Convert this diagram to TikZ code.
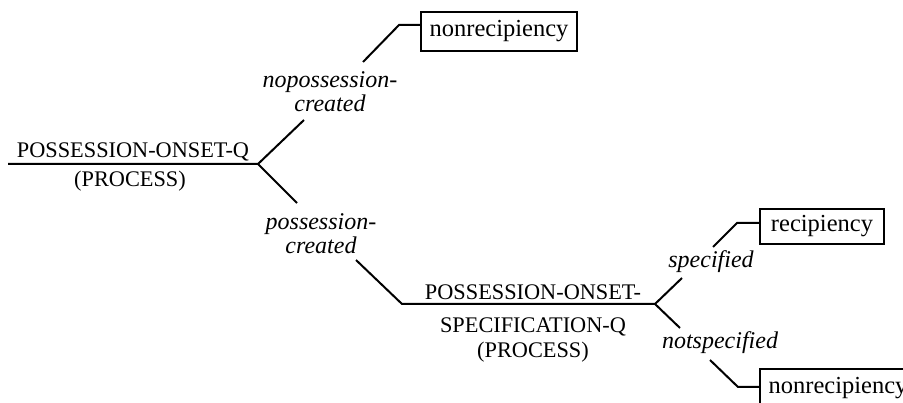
\documentclass[tikz,border=0pt]{standalone}
\usepackage{fontspec}
\setmainfont{Liberation Serif}
\begin{document}
\begin{tikzpicture}[x=1pt,y=-1pt,
  edge/.style={line width=2pt},
  lbl/.style={font=\fontsize{24}{24}\selectfont\itshape, align=center, inner sep=0pt},
  txt/.style={font=\fontsize{22.3}{26}\selectfont, inner sep=0pt, anchor=base},
  leaf/.style={draw, line width=2pt, font=\fontsize{24.5}{26}\selectfont, inner sep=0pt, anchor=north west}]
\useasboundingbox (0,0) rectangle (903,403);

% root
\coordinate (s) at (8,164);
\coordinate (j1) at (258,164);
\node[txt] (t1) at (133,158) {POSSESSION-ONSET-Q};
\node[txt] (t1p) at (130,187) {(PROCESS)};

% upper branch
\coordinate (a1) at (304,120);
\node[lbl] (l1) at (330,92) {nopossession-\\created};
\coordinate (b1) at (363,62);
\coordinate (c1) at (399,25);
\node[leaf, minimum width=156pt, minimum height=39pt] (n1) at (420,11) {nonrecipiency};
\draw[edge] (s) -- (j1) -- (a1);
\draw[edge] (b1) -- (c1) -- (c1 -| n1.west);

% lower branch
\coordinate (a2) at (297,203);
\node[lbl] (l2) at (321,234) {possession-\\created};
\coordinate (b2) at (356,260);
\coordinate (c2) at (402,304);
\coordinate (j2) at (655,304);
\draw[edge] (j1) -- (a2);
\draw[edge] (b2) -- (c2) -- (j2);
\node[txt] (t2a) at (533,300) {POSSESSION-ONSET-};
\node[txt] (t2b) at (533,333) {SPECIFICATION-Q};
\node[txt] (t2c) at (533,358) {(PROCESS)};

% specified
\coordinate (a3) at (682,278);
\node[lbl] (l3) at (711,262) {specified};
\coordinate (b3) at (713,247);
\coordinate (c3) at (737,223);
\node[leaf, minimum width=124pt, minimum height=35pt] (r1) at (759,208) {recipiency};
\draw[edge] (j2) -- (a3);
\draw[edge] (b3) -- (c3) -- (c3 -| r1.west);

% notspecified
\coordinate (a4) at (680,328);
\node[lbl] (l4) at (720,343) {notspecified};
\coordinate (b4) at (710,360);
\coordinate (c4) at (738,387);
\node[leaf, minimum width=156pt, minimum height=39pt] (n2) at (759,368) {nonrecipiency};
\draw[edge] (j2) -- (a4);
\draw[edge] (b4) -- (c4) -- (c4 -| n2.west);
\end{tikzpicture}
\end{document}
